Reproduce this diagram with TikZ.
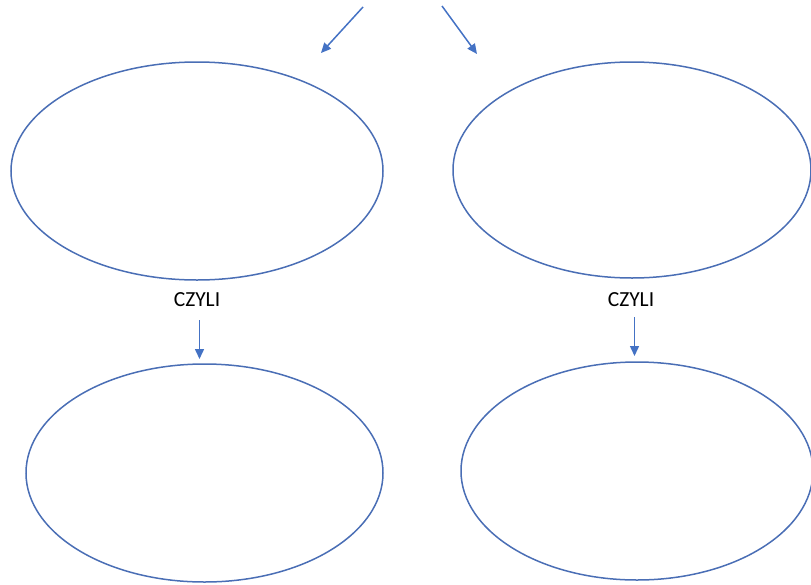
\documentclass[tikz,border=0pt]{standalone}
\usepackage{fontspec}
\setmainfont{Carlito}
\usetikzlibrary{shapes.geometric,arrows.meta}
\definecolor{officeblue}{HTML}{4472C4}
\definecolor{rimblue}{HTML}{4A6EB5}
\tikzset{
  oval/.style={ellipse, draw=rimblue, line width=1.5pt, inner sep=0pt},
  arr/.style={draw=officeblue, line width=1.5pt,
    -{Triangle[length=10pt,width=9pt]}},
  lbl/.style={font=\fontsize{21.5pt}{24pt}\selectfont, text=black, inner sep=0pt}
}
\begin{document}
\begin{tikzpicture}[x=1pt,y=-1pt]
  \useasboundingbox (0,0) rectangle (811,584);
  \begin{scope}
    \clip (0,0) rectangle (811,584);
    % four empty ovals
    \node[oval, minimum width=372pt, minimum height=218pt] (tl) at (197,171) {};
    \node[oval, minimum width=358pt, minimum height=216pt] (tr) at (632,170) {};
    \node[oval, minimum width=357pt, minimum height=218pt] (bl) at (204.5,473) {};
    \node[oval, minimum width=352pt, minimum height=218pt] (br) at (637,471) {};
  \end{scope}

  % labels between the rows
  \node[lbl] (c1) at (197,300) {CZYLI};
  \node[lbl] (c2) at (631,300) {CZYLI};

  % arrow ends
  \coordinate (a1s) at (363,7);
  \coordinate (a1e) at (321,53);
  \coordinate (a2s) at (442,6);
  \coordinate (a2e) at (477,54);
  \coordinate (d1s) at (199.5,320);
  \coordinate (d1e) at (199.5,359);
  \coordinate (d2s) at (634.5,317);
  \coordinate (d2e) at (634.5,356);

  \draw[arr] (a1s) -- (a1e);
  \draw[arr] (a2s) -- (a2e);
  \draw[arr] (d1s) -- (d1e);
  \draw[arr] (d2s) -- (d2e);
\end{tikzpicture}
\end{document}
